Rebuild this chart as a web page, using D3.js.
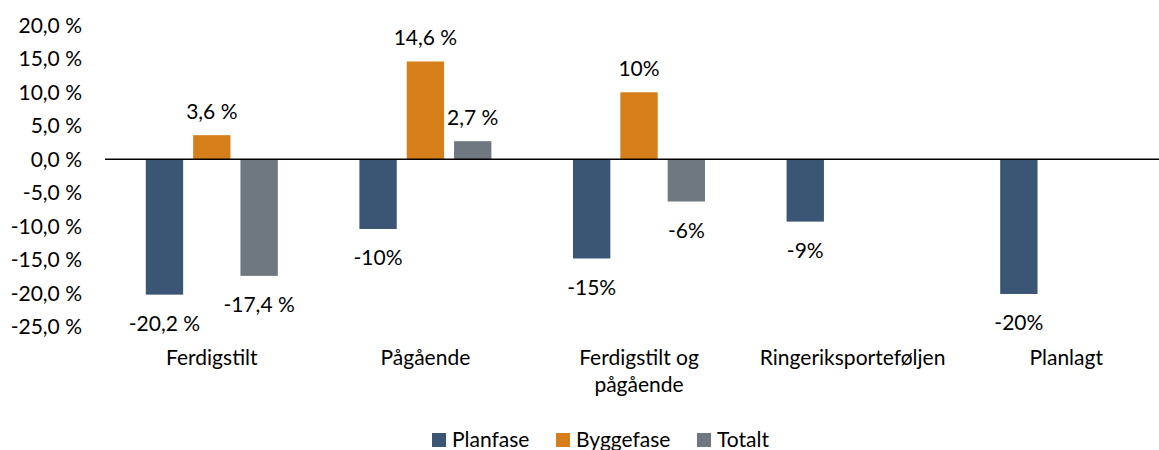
<!DOCTYPE html>
<html>
<head>
<meta charset="utf-8">
<script src="https://cdn.jsdelivr.net/npm/d3@7"></script>
<style>
  body { margin: 0; background: #fff; }
  text { font-family: Lato, "Open Sans", sans-serif; fill: #000; }
</style>
</head>
<body>
<script>
(function(){

    //chart data
    var categories = ["Ferdigstilt", "Pågående", "Ferdigstilt og pågående", "Ringeriksporteføljen", "Planlagt"];
    var seriesNames = ["Planfase", "Byggefase", "Totalt"];
    var planfase = [-20.2, -10.4, -14.8, -9.3, -20.1];
    var byggefase = [3.6, 14.6, 10.0, null, null];
    var totalt = [-17.4, 2.7, -6.3, null, null];
    var planfaseLabels = ["-20,2 %", "-10%", "-15%", "-9%", "-20%"];
    var byggefaseLabels = ["3,6 %", "14,6 %", "10%", null, null];
    var totaltLabels = ["-17,4 %", "2,7 %", "-6%", null, null];
    var yTicks = [20, 15, 10, 5, 0, -5, -10, -15, -20, -25];

    var colors = ["#3b5675", "#d67f1a", "#6f7780"];

    var width = 1159,
        height = 450;

    var svg = d3.select("body")
        .append("svg")
        .attr("width", width)
        .attr("height", height);

    //scales
    var x0 = d3.scaleBand()
        .domain(categories)
        .range([105, 1173])
        .padding(0);

    var groupWidth = x0.bandwidth() * 0.618;

    var x1 = d3.scaleBand()
        .domain(seriesNames)
        .range([0, groupWidth])
        .paddingInner(0.211)
        .paddingOuter(0);

    var y = d3.scaleLinear()
        .domain([-25, 20])
        .range([326.8, 25.3]);

    //number format with comma decimal
    var locale = d3.formatLocale({decimal: ",", thousands: " ", grouping: [3], currency: ["", " kr"], minus: "-"});
    var fmt = locale.format(".1f");

    //y axis labels (no axis line)
    var yAxis = d3.axisLeft(y)
        .tickValues(yTicks)
        .tickSize(0)
        .tickPadding(0)
        .tickFormat(function(d){ return fmt(d) + " %"; });

    var axis = svg.append("g")
        .attr("transform", "translate(82,0)")
        .call(yAxis);
    axis.select(".domain").remove();
    axis.selectAll("text")
        .style("font-size", "21px")
        .attr("fill", "#000");

    //build rows from arrays
    var valueArrays = [planfase, byggefase, totalt];
    var labelArrays = [planfaseLabels, byggefaseLabels, totaltLabels];
    var rows = [];
    categories.forEach(function(c, i){
        seriesNames.forEach(function(s, j){
            if (valueArrays[j][i] !== null) {
                rows.push({cat: c, series: s, idx: j, value: valueArrays[j][i], label: labelArrays[j][i]});
            }
        });
    });

    function barX(d){
        return x0(d.cat) + (x0.bandwidth() - groupWidth) / 2 + x1(d.series);
    }

    //bars
    svg.selectAll(".bar")
        .data(rows)
        .enter()
        .append("rect")
        .attr("class", "bar")
        .attr("x", barX)
        .attr("width", x1.bandwidth())
        .attr("y", function(d){ return y(Math.max(0, d.value)); })
        .attr("height", function(d){ return Math.abs(y(d.value) - y(0)); })
        .style("fill", function(d){ return colors[d.idx]; });

    //zero line
    svg.append("line")
        .attr("x1", 105)
        .attr("x2", width)
        .attr("y1", y(0))
        .attr("y2", y(0))
        .attr("stroke", "#000")
        .attr("stroke-width", 1.5);

    //data labels
    svg.selectAll(".dataLabel")
        .data(rows)
        .enter()
        .append("text")
        .attr("class", "dataLabel")
        .attr("x", function(d){ return barX(d) + x1.bandwidth() / 2; })
        .attr("y", function(d){
            return d.value >= 0 ? y(d.value) - 24 : y(d.value) + 29;
        })
        .attr("dy", "0.35em")
        .attr("text-anchor", "middle")
        .style("font-size", "21px")
        .text(function(d){ return d.label; });

    //category labels, wrapped
    var catLabels = svg.selectAll(".catLabel")
        .data(categories)
        .enter()
        .append("text")
        .attr("class", "catLabel")
        .attr("x", function(d){ return x0(d) + x0.bandwidth() / 2; })
        .attr("y", 358)
        .attr("dy", "0.35em")
        .attr("text-anchor", "middle")
        .style("font-size", "21px");

    catLabels.each(function(d){
        var el = d3.select(this);
        var words = d.split(" ");
        var lines = [], line = [];
        var cx = x0(d) + x0.bandwidth() / 2;
        words.forEach(function(w){
            line.push(w);
            var t = el.append("tspan").text(line.join(" "));
            var w2 = t.node().getComputedTextLength();
            t.remove();
            if (w2 > 190 && line.length > 1) {
                line.pop();
                lines.push(line.join(" "));
                line = [w];
            }
        });
        lines.push(line.join(" "));
        lines.forEach(function(l, k){
            el.append("tspan")
                .attr("x", cx)
                .attr("dy", k === 0 ? "0.35em" : 27)
                .text(l);
        });
        el.attr("dy", null);
    });

    //legend
    var legendX = [432, 556, 697];
    var legend = svg.selectAll(".legend")
        .data(seriesNames)
        .enter()
        .append("g")
        .attr("class", "legend")
        .attr("transform", function(d, i){ return "translate(" + legendX[i] + ",433)"; });

    legend.append("rect")
        .attr("width", 14)
        .attr("height", 14)
        .style("fill", function(d, i){ return colors[i]; });

    legend.append("text")
        .attr("x", 20)
        .attr("y", 7)
        .attr("dy", "0.35em")
        .style("font-size", "21px")
        .text(function(d){ return d; });

})();
</script>
</body>
</html>
